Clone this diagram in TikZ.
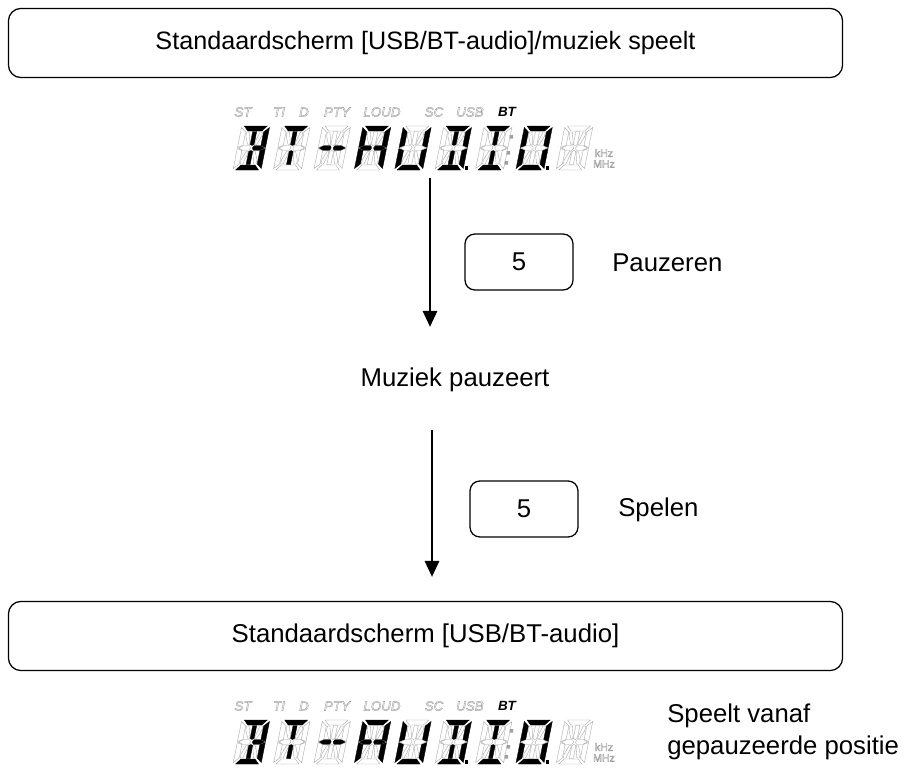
\documentclass[tikz,border=0pt]{standalone}
\usepackage{fontspec}
\setmainfont{Liberation Sans}
\usetikzlibrary{positioning,arrows.meta,calc}
\definecolor{lcdoff}{RGB}{160,160,160}

% segment looks of the 14-segment display
\tikzset{
  segoff/.style={draw=lcdoff, line width=0.25pt},
  segon/.style={fill=black, draw=black, line width=0.25pt},
  dark/.code={\tikzset{seg #1/.style=segoff}},
  lit/.code={\tikzset{seg #1/.style=segon}},
  lit list/.style={lit/.list={#1}},
  dark/.list={a,b,c,d,e,f,g,h,i,j,k,l,m,n}
}

\newcommand\lcdtext[1]{\special{pdf:literal direct 1 Tr 0.3 w}#1\special{pdf:literal direct 0 Tr}}

% one digit: bottom-left corner, lit segments
\newcommand\lcddigit[2]{%
  \begin{scope}[shift={#1}, x=0.025cm, y=0.025cm, xslant=0.2, lit list/.expand once={#2}]
    \foreach \nm/\shp in {
      a/{(2.5,44) -- (25.5,44) -- (21,39) -- (7,39)},
      d/{(2.5,0) -- (25.5,0) -- (21,5) -- (7,5)},
      f/{(0,42.5) -- (5,38) -- (5,24.5) -- (0,22.5)},
      e/{(0,21.5) -- (5,19.5) -- (5,6) -- (0,1.5)},
      b/{(28,42.5) -- (23,38) -- (23,24.5) -- (28,22.5)},
      c/{(28,21.5) -- (23,19.5) -- (23,6) -- (28,1.5)},
      g/{(1,22) -- (5.5,24.3) -- (11.8,24.3) -- (13,22) -- (11.8,19.7) -- (5.5,19.7)},
      h/{(27,22) -- (22.5,24.3) -- (16.2,24.3) -- (15,22) -- (16.2,19.7) -- (22.5,19.7)},
      i/{(12,38.5) -- (16,38.5) -- (16,25.5) -- (14,24.5) -- (12,25.5)},
      j/{(12,18.5) -- (14,19.5) -- (16,18.5) -- (16,5.5) -- (12,5.5)},
      k/{(6,38) -- (8.5,38) -- (11.3,28) -- (11.3,25.5) -- (9.5,25.5) -- (6,34)},
      l/{(22,38) -- (19.5,38) -- (16.7,28) -- (16.7,25.5) -- (18.5,25.5) -- (22,34)},
      m/{(6,6) -- (8.5,6) -- (11.3,16) -- (11.3,18.5) -- (9.5,18.5) -- (6,10)},
      n/{(22,6) -- (19.5,6) -- (16.7,16) -- (16.7,18.5) -- (18.5,18.5) -- (22,10)}}
      \path[seg \nm] \shp -- cycle;
  \end{scope}}

% whole panel: name, baseline of the digits
\newcommand\lcdpanel[2]{%
  \foreach \tx/\px in {ST/243, TI/279, D/304, PTY/337, LOUD/382, SC/434, USB/470}
    \node[flag] (#1-\tx) at (\px,#2-58) {\lcdtext{\tx}};
  \node[flag, text=black, font=\fontsize{9.5}{10}\selectfont\bfseries\itshape] (#1-BT) at (507,#2-58) {BT};
  \foreach \k/\segs in {0/{a,b,c,d,h,i,j}, 1/{a,i,j}, 2/{g,h}, 3/{a,b,c,e,f,g,h},
      4/{b,c,d,e,f}, 5/{a,b,c,d,i,j}, 6/{a,d,i,j}, 7/{a,b,c,d,e,f}, 8/{}}
    \lcddigit{(233+\k*40.4,#2)}{\segs};
  \fill[black] (464.5,#2-4) rectangle ++(3.5,3.5);
  \fill[lcdoff] (509.5,#2-35) rectangle ++(3.5,3.5)
                (506.5,#2-19) rectangle ++(3.5,3.5)
                (504.5,#2-9) rectangle ++(3.5,3.5);
  \fill[black] (545.5,#2-4) rectangle ++(3.5,3.5);
  \node[unit] (#1-khz) at (604,#2-17) {\lcdtext{kHz}};
  \node[unit] (#1-mhz) at (604,#2-6) {\lcdtext{MHz}};
  \coordinate (#1-foot) at (430,#2+8);}

\begin{document}
\begin{tikzpicture}[x=0.025cm, y=-0.025cm,
  txt/.style={inner sep=0pt, font=\fontsize{18.3}{23}\selectfont},
  screen/.style={txt, draw, line width=0.9pt, rounded corners=9pt,
    minimum width=20.85cm, minimum height=1.73cm},
  key/.style={txt, draw, line width=0.9pt, rounded corners=7pt,
    minimum width=2.7cm, minimum height=1.4cm},
  flag/.style={inner sep=0pt, text=lcdoff, font=\fontsize{9.5}{10}\selectfont\itshape},
  unit/.style={inner sep=0pt, text=lcdoff, font=\fontsize{7.5}{8}\selectfont},
  flow/.style={-{Triangle[width=10pt, length=11.5pt]}, line width=2.1pt}]
  \useasboundingbox (0,0) rectangle (910,776);

  \node[screen, font=\fontsize{17.9}{23}\selectfont] (std1) at (425.5,43)
    {Standaardscherm [USB/BT-audio]/muziek speelt};
  \lcdpanel{lcd1}{170}

  \node[key] (key1) at (519,262) {5};
  \node[txt, anchor=west] (pauze) at (612,263) {Pauzeren};
  \node[txt] (paused) at (455,380) {Muziek pauzeert};
  \coordinate (tip1) at (430,327);
  \draw[flow] (lcd1-foot) -- (tip1);

  \coordinate (tail2) at (432,430);
  \coordinate (tip2) at (432,577);
  \draw[flow] (tail2) -- (tip2);
  \node[key] (key2) at (524,509) {5};
  \node[txt, anchor=west] (spelen) at (618,510) {Spelen};

  \node[screen] (std2) at (425.5,636) {Standaardscherm [USB/BT-audio]};
  \lcdpanel{lcd2}{764}
  \node[txt, anchor=west, align=left] (resume) at (667,732)
    {Speelt vanaf\\gepauzeerde positie};
\end{tikzpicture}
\end{document}
